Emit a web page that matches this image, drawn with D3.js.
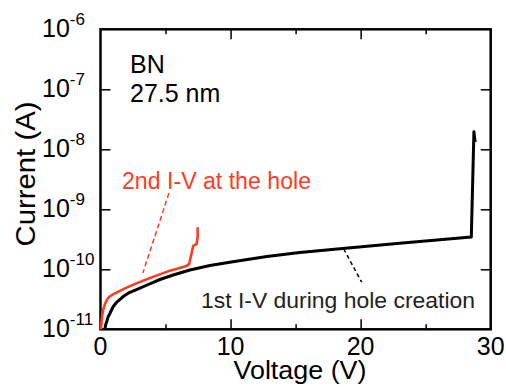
<!DOCTYPE html>
<html>
<head>
<meta charset="utf-8">
<script src="https://cdn.jsdelivr.net/npm/d3@7"></script>
<style>
  body { margin: 0; background: #fff; }
  svg { display: block; }
  text { font-family: "Liberation Sans", Arial, sans-serif; fill: #000; }
</style>
</head>
<body>
<div id="chart"></div>
<script>
// 1st I-V during hole creation (black)
const firstV = [0.35, 0.41, 0.48, 0.58, 0.73, 0.98, 1.23, 1.50, 1.80, 2.13, 2.90, 3.67, 4.57, 5.59, 6.87, 8.41, 10.18, 12.79, 15.32, 18.62, 23.0, 28.51, 28.71, 28.80];
const firstI = [1.04e-11, 1.22e-11, 1.34e-11, 1.6e-11, 1.85e-11, 2.4e-11, 2.8e-11, 3.16e-11, 3.59e-11, 4.0e-11, 4.7e-11, 5.58e-11, 6.76e-11, 8.03e-11, 9.73e-11, 1.156e-10, 1.34e-10, 1.63e-10, 1.9e-10, 2.22e-10, 2.71e-10, 3.45e-10, 1.96e-8, 1.32e-8];

// 2nd I-V at the hole (red)
const secondV = [0.02, 0.04, 0.09, 0.15, 0.21, 0.33, 0.48, 0.65, 0.86, 1.37, 2.13, 2.90, 3.67, 4.19, 5.34, 6.62, 6.82, 7.00, 7.13, 7.39, 7.47, 7.47];
const secondI = [1.0e-11, 1.04e-11, 1.43e-11, 1.8e-11, 2.1e-11, 2.59e-11, 3.08e-11, 3.45e-11, 3.7e-11, 4.24e-11, 5.1e-11, 6.0e-11, 6.97e-11, 7.7e-11, 9.5e-11, 1.14e-10, 1.23e-10, 1.85e-10, 2.46e-10, 2.64e-10, 3.5e-10, 5.0e-10];

const xMajor = [0, 10, 20, 30];
const xMinor = [5, 15, 25];
const yExponents = [-6, -7, -8, -9, -10, -11];

// leader lines (V, I) pairs
const redLeader = [[5.26, 1.86e-9], [3.26, 8.7e-11]];
const blackLeader = [[18.70, 2.18e-10], [20.08, 6.1e-11]];

const W = 506, H = 387;
const L = 100.5, R = 490.7, T = 29.3, B = 329.3;

const svg = d3.select("#chart").append("svg").attr("width", W).attr("height", H);

const x = d3.scaleLinear().domain([0, 30]).range([L, R]);
const y = d3.scaleLog().domain([1e-11, 1e-6]).range([B, T]);

const axisStyle = g => g.call(s => s.select(".domain").remove())
  .selectAll("line").attr("stroke", "#000").attr("stroke-width", 1.5);

// bottom / top ticks
svg.append("g").attr("transform", `translate(0,${B})`)
  .call(d3.axisBottom(x).tickValues(xMajor.slice(1, 3)).tickSize(-10).tickFormat(""))
  .call(axisStyle);
svg.append("g").attr("transform", `translate(0,${B})`)
  .call(d3.axisBottom(x).tickValues(xMinor).tickSize(-5).tickFormat(""))
  .call(axisStyle);
svg.append("g").attr("transform", `translate(0,${T})`)
  .call(d3.axisTop(x).tickValues(xMajor.slice(1, 3)).tickSize(-10).tickFormat(""))
  .call(axisStyle);
svg.append("g").attr("transform", `translate(0,${T})`)
  .call(d3.axisTop(x).tickValues(xMinor).tickSize(-5).tickFormat(""))
  .call(axisStyle);

// left / right ticks
const yTicks = yExponents.slice(1, 5).map(e => Math.pow(10, e));
svg.append("g").attr("transform", `translate(${L},0)`)
  .call(d3.axisLeft(y).tickValues(yTicks).tickSize(-10).tickFormat(""))
  .call(axisStyle);
svg.append("g").attr("transform", `translate(${R},0)`)
  .call(d3.axisRight(y).tickValues(yTicks).tickSize(-10).tickFormat(""))
  .call(axisStyle);

// frame
svg.append("rect")
  .attr("x", L).attr("y", T).attr("width", R - L).attr("height", B - T)
  .attr("fill", "none").attr("stroke", "#000").attr("stroke-width", 2.5);

// x tick labels
svg.append("g").selectAll("text").data(xMajor).join("text")
  .attr("x", d => x(d)).attr("y", B + 26)
  .attr("text-anchor", "middle").attr("font-size", 25)
  .text(d => d);

// y tick labels 10^n
const yl = svg.append("g").selectAll("text").data(yExponents).join("text")
  .attr("x", 42).attr("y", d => y(Math.pow(10, d)) + 8)
  .attr("font-size", 25);
yl.append("tspan").text("10");
yl.append("tspan").attr("dy", -12).attr("font-size", 17).text(d => "-" + Math.abs(d));

// axis titles
svg.append("text")
  .attr("x", 300).attr("y", 379)
  .attr("text-anchor", "middle").attr("font-size", 25)
  .attr("textLength", 133).attr("lengthAdjust", "spacingAndGlyphs")
  .text("Voltage (V)");
svg.append("text")
  .attr("transform", "translate(35,174) rotate(-90)")
  .attr("text-anchor", "middle").attr("font-size", 27)
  .attr("textLength", 145).attr("lengthAdjust", "spacingAndGlyphs")
  .text("Current (A)");

// sample label
svg.append("text").attr("x", 130).attr("y", 73).attr("font-size", 25).text("BN");
svg.append("text").attr("x", 130).attr("y", 102).attr("font-size", 25).text("27.5 nm");

// curves
const line = d3.line().x(d => x(d[0])).y(d => y(d[1]));

svg.append("path")
  .datum(d3.zip(firstV, firstI))
  .attr("fill", "none").attr("stroke", "#000").attr("stroke-width", 3)
  .attr("stroke-linejoin", "round")
  .attr("d", line);

svg.append("path")
  .datum(d3.zip(secondV, secondI))
  .attr("fill", "none").attr("stroke", "#ff3b22").attr("stroke-width", 2.6)
  .attr("stroke-linejoin", "round")
  .attr("d", line);

// leaders
svg.append("path").datum(redLeader)
  .attr("fill", "none").attr("stroke", "#ff3b22").attr("stroke-width", 1.5)
  .attr("stroke-dasharray", "5,3").attr("d", line);
svg.append("path").datum(blackLeader)
  .attr("fill", "none").attr("stroke", "#000").attr("stroke-width", 1.5)
  .attr("stroke-dasharray", "4,3").attr("d", line);

// annotations
svg.append("text")
  .attr("x", 122).attr("y", 189).attr("font-size", 23)
  .attr("font-family", "'Open Sans', sans-serif").attr("font-weight", 300)
  .attr("textLength", 189).attr("lengthAdjust", "spacingAndGlyphs")
  .style("fill", "#ff3b22")
  .text("2nd I-V at the hole");
svg.append("text")
  .attr("x", 201).attr("y", 308).attr("font-size", 22)
  .attr("font-family", "'Open Sans', sans-serif").attr("font-weight", 300)
  .attr("textLength", 274).attr("lengthAdjust", "spacingAndGlyphs")
  .style("fill", "#222")
  .text("1st I-V during hole creation");
</script>
</body>
</html>
